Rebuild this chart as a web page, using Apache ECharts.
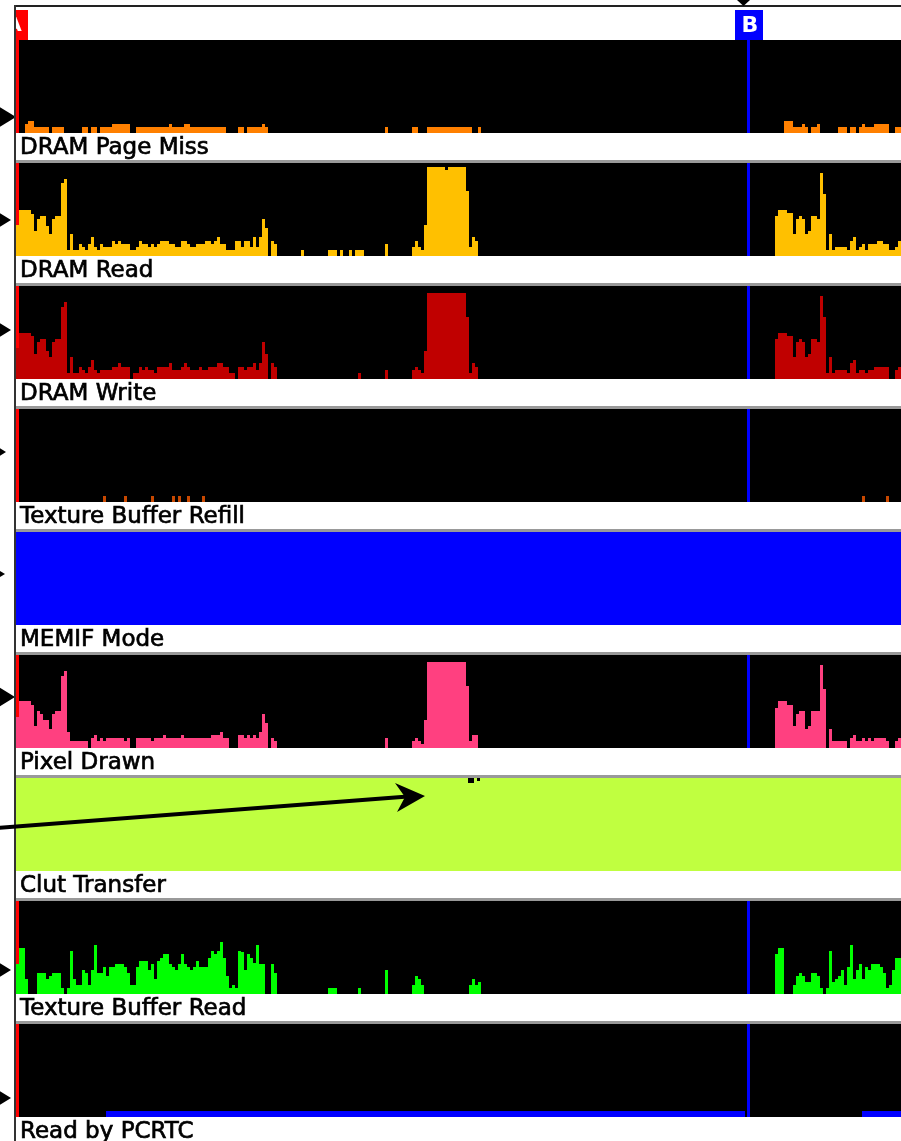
<!DOCTYPE html>
<html>
<head>
<meta charset="utf-8">
<script src="https://cdn.jsdelivr.net/npm/echarts@6/dist/echarts.min.js"></script>
<style>
  html, body { margin: 0; padding: 0; background: #fff; }
  #main { width: 901px; height: 1141px; }
</style>
</head>
<body>
<div id="main"></div>
<script>
// time axis in sample bins, each run is [startBin, endBin, level]
var BINS = 295;
var LEVEL_MAX = 93;

var labels = ['DRAM Page Miss', 'DRAM Read', 'DRAM Write', 'Texture Buffer Refill', 'MEMIF Mode',
  'Pixel Drawn', 'Clut Transfer', 'Texture Buffer Read', 'Read by PCRTC'];

var pageMissRuns = [
  [3,4,9],[4,6,12],[6,11,6],[12,16,6],[22,24,6],[25,27,6],[28,32,6],[32,38,9],[40,51,6],[51,52,9],
  [52,56,6],[56,58,9],[58,70,6],[74,76,6],[77,82,6],[82,83,9],[83,84,6],
  [123,124,6],[132,134,6],[137,152,6],[154,155,6],
  [256,259,12],[259,262,6],[262,263,9],[263,264,6],[265,267,6],[267,268,9],[274,277,6],[278,280,6],
  [281,282,6],[282,283,9],[283,286,6],[286,291,9],[293,295,6]
];

var dramReadRuns = [
  [0,1,31],[1,5,46],[5,6,42],[6,7,25],[7,8,37],[8,10,40],[10,11,30],[11,12,22],[12,13,37],[13,15,40],
  [15,16,73],[16,17,77],[17,18,6],[18,19,22],[19,21,6],[21,22,12],[22,23,9],[23,24,6],[24,25,12],[25,26,19],
  [26,27,9],[27,28,6],[28,29,12],[29,32,9],[32,33,15],[33,34,12],[34,35,15],[35,38,12],[38,40,6],[40,41,9],
  [41,42,15],[42,44,12],[44,45,9],[45,46,12],[46,47,9],[47,48,12],[48,51,15],[51,53,12],[53,55,9],[55,57,15],
  [57,58,12],[58,60,9],[60,63,12],[63,65,15],[65,66,12],[66,67,15],[67,68,19],[68,70,12],[70,73,6],[73,75,15],
  [75,76,9],[76,78,15],[78,79,9],[79,80,19],[80,81,9],[81,82,19],[82,83,37],[83,84,28],[85,86,15],[86,87,12],
  [95,96,6],[104,107,6],[108,109,6],[111,112,6],[113,116,6],[123,124,12],[132,133,9],[133,134,15],[134,135,9],
  [135,136,6],[136,137,31],[137,143,89],[143,144,86],[144,150,89],[150,151,65],[151,152,9],[152,153,19],[153,154,15],
  [253,254,40],[254,257,46],[257,259,43],[259,260,22],[260,261,37],[261,262,40],[262,263,37],[263,264,22],
  [264,265,25],[265,267,40],[267,268,37],[268,269,83],[269,270,62],[270,271,6],[271,272,22],[272,273,6],
  [273,277,9],[277,278,6],[278,279,15],[279,280,19],[280,281,6],[281,282,9],[282,283,12],[283,284,6],
  [284,287,12],[287,289,15],[289,291,12],[291,293,6],[293,294,9],[294,295,15]
];

var dramWriteRuns = [
  [0,1,31],[1,5,46],[5,6,43],[6,7,25],[7,8,37],[8,10,40],[10,11,28],[11,12,22],[12,13,37],[13,15,40],
  [15,16,72],[16,17,77],[17,18,6],[18,19,22],[19,21,6],[21,22,12],[22,23,9],[23,24,6],[24,25,12],[25,26,19],
  [26,27,9],[27,28,6],[28,32,9],[32,34,12],[34,35,16],[35,38,12],[39,41,6],[41,42,12],[42,43,9],[43,44,12],
  [44,46,9],[46,47,6],[47,51,12],[51,52,16],[52,55,9],[55,56,12],[56,57,16],[57,58,12],[58,61,9],[61,62,12],
  [62,64,9],[64,67,12],[67,69,16],[69,71,12],[71,73,6],[74,76,12],[76,77,9],[77,79,12],[79,80,16],[80,81,9],
  [81,82,16],[82,83,37],[83,84,25],[85,86,16],[86,87,12],
  [114,115,6],[123,124,9],[132,133,9],[133,134,12],[134,135,9],[135,136,6],[136,137,28],[137,150,86],
  [150,151,62],[151,152,6],[152,153,16],[153,154,12],
  [253,254,40],[254,257,46],[257,259,43],[259,260,22],[260,261,37],[261,262,40],[262,263,37],[263,264,22],
  [264,265,25],[265,267,40],[267,268,37],[268,269,83],[269,270,62],[270,271,6],[271,272,22],[272,273,6],
  [273,277,9],[277,278,6],[278,279,16],[279,280,19],[280,281,6],[281,283,9],[283,284,6],[284,286,9],
  [286,291,12],[293,294,9],[294,295,12]
];

var texRefillRuns = [
  [29,30,6],[36,37,6],[45,46,6],[52,53,6],[54,55,6],[57,58,6],[62,63,6],[282,283,6],[290,291,6]
];

var memifModeRuns = [[0,295,93]];

var pixelDrawnRuns = [
  [0,1,31],[1,5,47],[5,6,43],[6,7,22],[7,8,37],[8,9,34],[9,11,28],[11,12,19],[12,13,34],[13,15,37],
  [15,16,72],[16,17,77],[17,18,16],[18,24,7],[25,26,10],[26,27,13],[27,28,7],[28,29,10],[29,30,7],[30,36,10],
  [36,37,7],[37,38,10],[40,45,10],[45,46,7],[46,49,10],[49,50,13],[50,55,10],[55,56,13],[56,65,10],[65,68,13],
  [68,69,16],[69,71,10],[74,76,13],[76,77,10],[77,78,13],[78,79,10],[79,80,13],[80,81,10],[81,82,16],[82,83,34],
  [83,84,25],[85,86,10],[86,87,7],
  [123,124,10],[132,133,7],[133,134,10],[134,135,7],[135,136,4],[136,137,28],[137,150,86],[150,151,62],
  [151,152,7],[152,154,13],
  [253,254,40],[254,257,47],[257,259,43],[259,260,22],[260,261,34],[261,263,37],[263,264,19],[264,265,22],
  [265,268,37],[268,269,83],[269,270,59],[271,272,19],[272,277,7],[278,279,10],[279,280,13],[280,282,7],
  [282,283,10],[283,284,7],[284,285,10],[285,286,7],[286,290,10],[290,291,7],[293,294,7],[294,295,10]
];

var clutTransferRuns = [[0,295,93]];

var texReadRuns = [
  [0,1,30],[1,3,46],[3,4,15],[7,10,21],[10,11,15],[11,12,18],[12,15,21],[15,16,6],[17,18,6],[18,19,43],
  [19,20,15],[20,22,9],[22,23,24],[23,24,21],[24,25,9],[25,26,24],[26,27,49],[27,29,21],[29,30,27],[30,31,18],
  [31,33,27],[33,36,30],[36,37,27],[37,38,21],[38,40,9],[40,41,27],[41,44,33],[44,45,24],[45,46,30],[46,47,15],
  [47,48,33],[48,49,36],[49,51,40],[51,52,30],[52,53,27],[53,54,24],[54,55,30],[55,56,40],[56,57,30],[57,58,27],
  [58,59,24],[59,60,27],[60,61,33],[61,64,27],[64,65,36],[65,66,43],[66,67,40],[67,68,43],[68,69,52],[69,70,36],
  [70,71,18],[71,72,6],[72,73,9],[73,74,6],[74,75,43],[75,76,42],[76,77,24],[77,78,40],[78,79,36],[79,80,31],
  [80,81,49],[81,83,30],[85,86,30],[86,87,21],
  [104,107,6],[114,115,6],[123,124,24],[132,133,9],[133,134,18],[134,135,15],[135,136,9],
  [151,152,9],[152,153,15],[153,154,9],[154,155,12],
  [253,254,40],[254,256,46],[259,260,9],[260,261,18],[261,262,21],[262,263,18],[263,265,12],[265,267,21],
  [267,268,18],[268,269,6],[270,271,6],[271,272,43],[272,273,12],[273,274,15],[274,275,18],[275,276,24],
  [276,277,9],[277,278,27],[278,279,49],[279,280,15],[280,281,24],[281,282,30],[282,283,15],[283,284,27],
  [284,285,24],[285,288,30],[288,289,27],[289,290,21],[290,291,6],[291,292,9],[292,293,24],[293,295,36]
];

var pcrtcReadRuns = [[30,243,6],[282,295,6]];

var allRuns = [pageMissRuns, dramReadRuns, dramWriteRuns, texRefillRuns, memifModeRuns,
  pixelDrawnRuns, clutTransferRuns, texReadRuns, pcrtcReadRuns];

// trigger level markers on the left edge (null = none)
var triggerLevels = [16, 36, 49, 50, 51, 51, null, 24, 19];

// cursor A and cursor B, in bins
var cursorA = 0.5;
var cursorB = 244.2;

var colors = ['#ff8000', '#ffc000', '#c00000', '#c84800', '#0000ff', '#ff4080', '#c0ff40', '#00ff00', '#0000ff'];
var tipX = [16, 11, 11, 6, 5, 15, null, 11, 11];

var LEFT = 16, PLOT_W = 885, PLOT_H = 93, PITCH = 123, FIRST_TOP = 40;
function panelTop(k) { return FIRST_TOP + PITCH * k; }

var chart = echarts.init(document.getElementById('main'));

var grids = [], xAxes = [], yAxes = [], series = [];
labels.forEach(function (name, k) {
  grids.push({ left: LEFT, top: panelTop(k), width: PLOT_W, height: PLOT_H,
    show: true, backgroundColor: '#000', borderWidth: 0 });
  xAxes.push({ gridIndex: k, type: 'value', min: 0, max: BINS, show: false });
  yAxes.push({ gridIndex: k, type: 'value', min: 0, max: LEVEL_MAX, show: false });
  // cursor lines sit behind the activity bars
  series.push({
    type: 'line', xAxisIndex: k, yAxisIndex: k, data: [], z: 1, silent: true,
    markLine: {
      z: 1, symbol: 'none', silent: true, animation: false, label: { show: false },
      data: [
        { xAxis: cursorA, lineStyle: { color: '#ff0000', width: 3, type: 'solid' } },
        { xAxis: cursorB, lineStyle: { color: '#0000ff', width: 3, type: 'solid' } }
      ]
    }
  });
  series.push({
    name: name, type: 'custom', xAxisIndex: k, yAxisIndex: k, z: 10,
    data: allRuns[k],
    encode: { x: [0, 1], y: 2 },
    itemStyle: { color: colors[k] },
    renderItem: function (params, api) {
      var p0 = api.coord([api.value(0), api.value(2)]);
      var p1 = api.coord([api.value(1), 0]);
      return {
        type: 'rect',
        shape: { x: p0[0], y: p0[1], width: p1[0] - p0[0], height: p1[1] - p0[1] },
        style: { fill: api.visual('color') }
      };
    }
  });
});

chart.setOption({
  animation: false,
  backgroundColor: '#fff',
  grid: grids,
  xAxis: xAxes,
  yAxis: yAxes,
  series: series
});

var g = [];
// top frame
g.push({ type: 'rect', shape: { x: 14, y: 5, width: 887, height: 2 }, style: { fill: '#222' }, z: 100 });
g.push({ type: 'polygon', shape: { points: [[737, 0], [750, 0], [743.5, 6]] }, style: { fill: '#000' }, z: 100 });
// cursor tags
g.push({ type: 'rect', shape: { x: 16, y: 10, width: 12, height: 30 }, style: { fill: '#ff0000' }, z: 100 });
g.push({ type: 'text', style: { text: 'A', x: 14, y: 26, fill: '#fff', font: 'bold 20px "DejaVu Sans"',
  align: 'center', verticalAlign: 'middle' }, z: 101 });
g.push({ type: 'rect', shape: { x: 0, y: 8, width: 14, height: 33 }, style: { fill: '#fff' }, z: 102 });
g.push({ type: 'rect', shape: { x: 735, y: 10, width: 28, height: 30 }, style: { fill: '#0000ff' }, z: 100 });
g.push({ type: 'text', style: { text: 'B', x: 750, y: 26, fill: '#fff', font: 'bold 22px "DejaVu Sans"',
  align: 'center', verticalAlign: 'middle' }, z: 101 });

labels.forEach(function (name, k) {
  var top = panelTop(k);
  g.push({ type: 'text', style: { text: name, x: 20, y: top + PLOT_H + 15, fill: '#000',
    stroke: '#000', lineWidth: 0.7,
    font: '23px "DejaVu Sans"', align: 'left', verticalAlign: 'middle' }, z: 100 });
  if (k < labels.length - 1) {
    g.push({ type: 'rect', shape: { x: 16, y: top + PITCH - 3, width: 885, height: 3 },
      style: { fill: '#999' }, z: 100 });
  }
  if (triggerLevels[k] != null) {
    var py = chart.convertToPixel({ gridIndex: k }, [0, triggerLevels[k]])[1];
    var tx = tipX[k];
    g.push({ type: 'polygon', shape: { points: [[tx - 18, py - 11], [tx, py], [tx - 18, py + 11]] },
      style: { fill: '#000' }, z: 100 });
  }
});

// left frame
g.push({ type: 'rect', shape: { x: 14, y: 5, width: 2, height: 1136 }, style: { fill: '#333' }, z: 103 });

// annotation arrow into Clut Transfer
g.push({ type: 'line', shape: { x1: -2, y1: 828, x2: 408, y2: 796.5 },
  style: { stroke: '#000', lineWidth: 4 }, z: 104 });
g.push({ type: 'polygon', shape: { points: [[395, 783], [425, 796], [397, 812], [405, 797]] },
  style: { fill: '#000' }, z: 104 });
g.push({ type: 'rect', shape: { x: 468, y: 778, width: 6, height: 5 }, style: { fill: '#000' }, z: 104 });
g.push({ type: 'rect', shape: { x: 477, y: 778, width: 3, height: 3 }, style: { fill: '#000' }, z: 104 });

chart.setOption({ graphic: { elements: g } });

window.addEventListener('resize', function () { chart.resize(); });
</script>
</body>
</html>
